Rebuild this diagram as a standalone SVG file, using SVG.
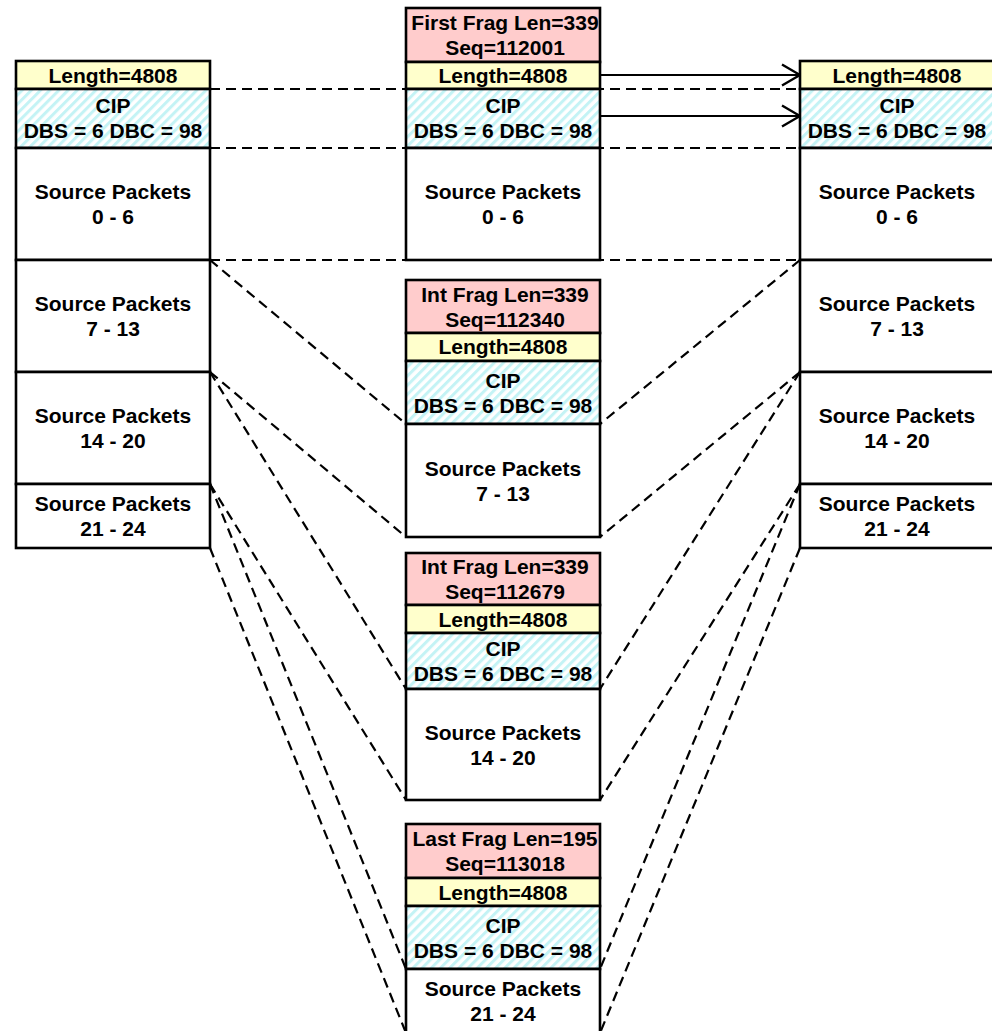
<svg xmlns="http://www.w3.org/2000/svg" width="992" height="1031" viewBox="0 0 992 1031">
<style>
.t{font-family:"Liberation Sans",Arial,sans-serif;font-weight:bold;font-size:21px;fill:#000;text-anchor:middle}
.b{stroke:#000;stroke-width:2.6}
.hd{fill:#ffcccc}
.ln{fill:#ffffcc}
.cip{fill:url(#hatch)}
.sp{fill:#fff}
.d{stroke:#000;stroke-width:2.2;stroke-dasharray:10 6;fill:none}
.a{stroke:#000;stroke-width:2.2;fill:none;marker-end:url(#arr)}
</style>
<defs>
<pattern id="hatch" patternUnits="userSpaceOnUse" width="6.5" height="6.5" patternTransform="rotate(45)">
<rect width="6.5" height="6.5" fill="#fff"/>
<rect width="3" height="6.5" fill="#c4f3f5"/>
</pattern>
<marker id="arr" markerUnits="userSpaceOnUse" viewBox="0 0 20 24" refX="19" refY="12" markerWidth="20" markerHeight="24" orient="auto">
<path d="M1,1.5 L19,12 L1,22.5" fill="none" stroke="#000" stroke-width="2.4"/>
</marker>
</defs>
<rect width="992" height="1031" fill="#fff"/>
<g id="connectors">
<line class="d" x1="210" y1="89" x2="800" y2="89"/>
<line class="d" x1="210" y1="148" x2="800" y2="148"/>
<line class="d" x1="210" y1="260" x2="800" y2="260"/>
<line class="d" x1="210" y1="260" x2="406" y2="424"/>
<line class="d" x1="210" y1="372" x2="406" y2="537"/>
<line class="d" x1="210" y1="372" x2="406" y2="689"/>
<line class="d" x1="210" y1="484" x2="406" y2="800"/>
<line class="d" x1="210" y1="484" x2="406" y2="969"/>
<line class="d" x1="210" y1="548" x2="406" y2="1033"/>
<line class="d" x1="800" y1="260" x2="600" y2="424"/>
<line class="d" x1="800" y1="372" x2="600" y2="537"/>
<line class="d" x1="800" y1="372" x2="600" y2="689"/>
<line class="d" x1="800" y1="484" x2="600" y2="800"/>
<line class="d" x1="800" y1="484" x2="600" y2="969"/>
<line class="d" x1="800" y1="548" x2="600" y2="1033"/>
<line class="a" x1="600" y1="75" x2="800" y2="75"/>
<line class="a" x1="600" y1="116" x2="800" y2="116"/>
</g>
<g id="left">
<rect class="b ln" x="16" y="61" width="194" height="28"/>
<rect class="b cip" x="16" y="89" width="194" height="59"/>
<rect class="b sp" x="16" y="148" width="194" height="112"/>
<rect class="b sp" x="16" y="260" width="194" height="112"/>
<rect class="b sp" x="16" y="372" width="194" height="112"/>
<rect class="b sp" x="16" y="484" width="194" height="64"/>
<text class="t" x="113" y="82.5">Length=4808</text>
<text class="t" x="113" y="112.5">CIP</text>
<text class="t" x="113" y="137.5">DBS = 6 DBC = 98</text>
<text class="t" x="113" y="199">Source Packets</text>
<text class="t" x="113" y="224">0 - 6</text>
<text class="t" x="113" y="311">Source Packets</text>
<text class="t" x="113" y="336">7 - 13</text>
<text class="t" x="113" y="423">Source Packets</text>
<text class="t" x="113" y="448">14 - 20</text>
<text class="t" x="113" y="511">Source Packets</text>
<text class="t" x="113" y="536">21 - 24</text>
</g>
<g id="frag1">
<rect class="b hd" x="406" y="8" width="194" height="54"/>
<rect class="b ln" x="406" y="62" width="194" height="27"/>
<rect class="b cip" x="406" y="89" width="194" height="59"/>
<rect class="b sp" x="406" y="148" width="194" height="112"/>
<text class="t" x="505" y="30">First Frag Len=339</text>
<text class="t" x="505" y="55">Seq=112001</text>
<text class="t" x="503" y="82.5">Length=4808</text>
<text class="t" x="503" y="112.5">CIP</text>
<text class="t" x="503" y="137.5">DBS = 6 DBC = 98</text>
<text class="t" x="503" y="199">Source Packets</text>
<text class="t" x="503" y="224">0 - 6</text>
</g>
<g id="frag2">
<rect class="b hd" x="406" y="280" width="194" height="53"/>
<rect class="b ln" x="406" y="333" width="194" height="28"/>
<rect class="b cip" x="406" y="361" width="194" height="63"/>
<rect class="b sp" x="406" y="424" width="194" height="113"/>
<text class="t" x="505" y="301.5">Int Frag Len=339</text>
<text class="t" x="505" y="326.5">Seq=112340</text>
<text class="t" x="503" y="354">Length=4808</text>
<text class="t" x="503" y="387.5">CIP</text>
<text class="t" x="503" y="412.5">DBS = 6 DBC = 98</text>
<text class="t" x="503" y="475.5">Source Packets</text>
<text class="t" x="503" y="500.5">7 - 13</text>
</g>
<g id="frag3">
<rect class="b hd" x="406" y="553" width="194" height="52"/>
<rect class="b ln" x="406" y="605" width="194" height="28"/>
<rect class="b cip" x="406" y="633" width="194" height="56"/>
<rect class="b sp" x="406" y="689" width="194" height="111"/>
<text class="t" x="505" y="574">Int Frag Len=339</text>
<text class="t" x="505" y="599">Seq=112679</text>
<text class="t" x="503" y="626.5">Length=4808</text>
<text class="t" x="503" y="656">CIP</text>
<text class="t" x="503" y="681">DBS = 6 DBC = 98</text>
<text class="t" x="503" y="739.5">Source Packets</text>
<text class="t" x="503" y="764.5">14 - 20</text>
</g>
<g id="frag4">
<rect class="b hd" x="406" y="824" width="194" height="54"/>
<rect class="b ln" x="406" y="878" width="194" height="28"/>
<rect class="b cip" x="406" y="906" width="194" height="63"/>
<rect class="b sp" x="406" y="969" width="194" height="64"/>
<text class="t" x="505" y="846">Last Frag Len=195</text>
<text class="t" x="505" y="871">Seq=113018</text>
<text class="t" x="503" y="899.5">Length=4808</text>
<text class="t" x="503" y="932.5">CIP</text>
<text class="t" x="503" y="957.5">DBS = 6 DBC = 98</text>
<text class="t" x="503" y="996">Source Packets</text>
<text class="t" x="503" y="1021">21 - 24</text>
</g>
<g id="right">
<rect class="b ln" x="800" y="61" width="194" height="28"/>
<rect class="b cip" x="800" y="89" width="194" height="59"/>
<rect class="b sp" x="800" y="148" width="194" height="112"/>
<rect class="b sp" x="800" y="260" width="194" height="112"/>
<rect class="b sp" x="800" y="372" width="194" height="112"/>
<rect class="b sp" x="800" y="484" width="194" height="64"/>
<text class="t" x="897" y="82.5">Length=4808</text>
<text class="t" x="897" y="112.5">CIP</text>
<text class="t" x="897" y="137.5">DBS = 6 DBC = 98</text>
<text class="t" x="897" y="199">Source Packets</text>
<text class="t" x="897" y="224">0 - 6</text>
<text class="t" x="897" y="311">Source Packets</text>
<text class="t" x="897" y="336">7 - 13</text>
<text class="t" x="897" y="423">Source Packets</text>
<text class="t" x="897" y="448">14 - 20</text>
<text class="t" x="897" y="511">Source Packets</text>
<text class="t" x="897" y="536">21 - 24</text>
</g>
</svg>
